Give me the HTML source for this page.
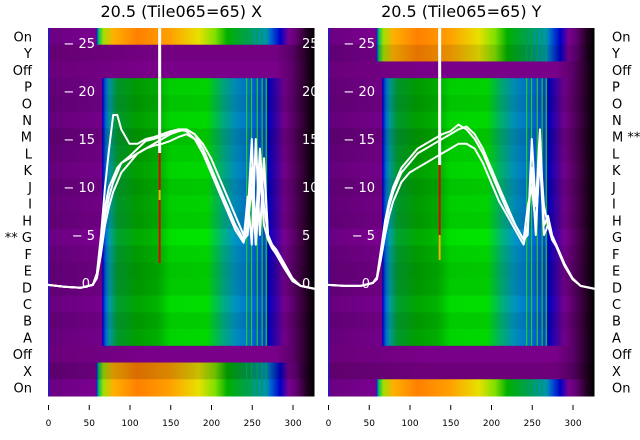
<!DOCTYPE html>
<html><head><meta charset="utf-8">
<style>
html,body{margin:0;padding:0;background:#fff;}
#wrap{position:relative;width:640px;height:440px;overflow:hidden;font-family:"Liberation Sans","DejaVu Sans",sans-serif;}
svg text{font-family:"DejaVu Sans","Liberation Sans",sans-serif;}
</style></head>
<body>
<div id="wrap">
<svg id="svg" width="640" height="440" xmlns="http://www.w3.org/2000/svg">
<defs id="defs"></defs>
</svg>
</div>
<script>
// ---- data ----
const rowLabels = ["On","Y","Off","P","O","N","M","L","K","J","I","H","G","F","E","D","C","B","A","Off","X","On"];
const rowTypesX = ["on","off","off","mid","mid","mid","mid","mid","mid","mid","mid","mid","mid","mid","mid","mid","mid","mid","mid","off","on","on"];
const rowTypesY = ["on","on","off","mid","mid","mid","mid","mid","mid","mid","mid","mid","mid","mid","mid","mid","mid","mid","mid","off","off","on"];
const rowShade = [0,0.1,0.05,0.08,0.12,0.05,0.15,0.1,0.05,0.12,0.08,0.1,0,0.08,0.12,0.1,0.02,0.1,0.05,0.05,0.15,0];
const xTicks = [0,50,100,150,200,250,300];
const yTicks = [0,5,10,15,20,25];
const sampleU = [0,20,40,55,60,65,70,75,80,85,90,100,110,120,130,140,150,160,170,180,190,200,210,220,230,240,245,250,255,260,265,270,275,280,290,300,310,327];
const seriesX1 = [-0.2,-0.4,-0.5,-0.2,1,4,8,10,11,12,12.5,13,13.5,14,14.3,14.5,14.8,15.2,15.5,15,14,12,10,8,6,4.5,5,12,6,14,8,5,4,3.5,2,0.5,-0.3,-0.6];
const seriesX2 = [-0.2,-0.4,-0.5,-0.2,1,5,10,14,17.5,17.5,16,14.5,14.5,15,15.2,15.5,15.8,16,16,15.5,14,12,10,8,6,4.5,9,4,15,5,13,5,4,3.2,1.8,0.3,-0.3,-0.6];
const seriesX3 = [-0.2,-0.4,-0.5,-0.2,0.5,3,6,8,9.5,10.5,11.5,12.5,13.5,14,14.5,15,15.5,15.8,16,15.5,14.5,13,11,9,7,5,7,15,4,10,12,5,3.8,3,1.5,0.2,-0.3,-0.6];
const seriesX4 = [-0.2,-0.4,-0.5,-0.2,0.8,3.5,7,9,10.5,11.5,12.5,13.2,14,14.8,15,15.3,15.6,16,15.8,15,13.5,11.5,9.5,7.5,5.5,4.2,6,10,4,12,6,4.5,3.6,3,1.6,0.3,-0.3,-0.6];
const seriesY1 = [-0.2,-0.3,-0.3,0,0.5,3,6,8,9.5,10.5,11.5,12.5,13.5,14,14.5,15,15.5,16,16.3,15.5,14,12,10,8,6,4.5,5,15,8,16,6,7,5,4,2,0.5,-0.3,-0.6];
const seriesY2 = [-0.2,-0.3,-0.3,0,0.4,2.5,5,7,8.5,9.5,10.5,11.5,12,12.5,13,13.5,14,14.5,14.5,14,12.5,10.5,8.5,7,5.5,4,6,12,5,14,8,6,4.5,3.8,1.8,0.4,-0.3,-0.6];
const seriesY3 = [-0.2,-0.3,-0.3,0,0.6,3.5,6.5,8.5,10,11,12,13,14,14.5,15,15.5,15.8,16.5,16,15,13.5,11.5,9.5,7.5,6,4.5,8,10,6,13,5,6,4.8,4,2,0.5,-0.3,-0.6];

const NS="http://www.w3.org/2000/svg";
const svg=document.getElementById('svg');
const defs=document.getElementById('defs');
function mk(tag,attrs,parent){const e=document.createElementNS(NS,tag);for(const k in attrs)e.setAttribute(k,attrs[k]);(parent||svg).appendChild(e);return e;}

const TOP=28,BOT=396,RH=(BOT-TOP)/rowLabels.length;
const SC=0.815;
function yScale(v){return 283-v*9.6;}

const gradMid=[[0,'#6a0080'],[66,'#7a0090'],[67,'#0000d0'],[71,'#0070d8'],[76,'#00a0a0'],[85,'#00a030'],[110,'#00a800'],[135,'#00b800'],[150,'#00e000'],[195,'#00e400'],[212,'#00b870'],[228,'#0098c0'],[250,'#0070e0'],[268,'#0040e0'],[270,'#0000c8'],[290,'#780090'],[300,'#600070'],[315,'#300030'],[327,'#000000']];
const gradOn=[[0,'#6a0080'],[59,'#7a0090'],[60,'#0030e0'],[62,'#00c060'],[68,'#a0e000'],[80,'#ffb000'],[110,'#ff8000'],[150,'#ffa000'],[185,'#e8e000'],[205,'#80e000'],[220,'#00b000'],[245,'#00a050'],[268,'#0090d0'],[285,'#0000c8'],[295,'#780090'],[305,'#600070'],[318,'#200020'],[327,'#000000']];
const gradOff=[[0,'#700080'],[120,'#800090'],[280,'#800090'],[300,'#600070'],[315,'#300030'],[327,'#000000']];

function makeGrad(id,stops,x0){
  const g=mk('linearGradient',{id:id,gradientUnits:'userSpaceOnUse',x1:x0,y1:0,x2:x0+327*SC,y2:0},defs);
  stops.forEach(s=>mk('stop',{offset:(s[0]/327).toFixed(4),'stop-color':s[1]},g));
}

function panel(pid,x0,types,seriesList,title,labelSide,starRow){
  makeGrad(pid+'mid',gradMid,x0);makeGrad(pid+'on',gradOn,x0);makeGrad(pid+'off',gradOff,x0);
  const g=mk('g',{});
  
  
  const W=327*SC;
  mk('rect',{x:x0,y:TOP,width:W,height:BOT-TOP,fill:'#700080'},g);
  types.forEach((t,i)=>{
    const r=mk('rect',{x:x0,y:TOP+i*RH,width:W,height:RH+0.5,fill:'url(#'+pid+t+')'},g);
    
    
    if(rowShade[i]>0) mk('rect',{x:x0,y:TOP+i*RH,width:W,height:RH+0.5,fill:'#000',opacity:rowShade[i]},g);
    if(t!=='off'){
      [243,249,256,262,267].forEach(u=>{
        mk('rect',{x:x0+u*SC,y:TOP+i*RH,width:1.2,height:RH+0.5,fill:t==='mid'?'#20d020':'#00a040'},g);
      });
    }
  });
  mk('rect',{x:x0,y:TOP,width:1.2,height:BOT-TOP,fill:'#1020e0'},g);
  const lx=x0+137*SC;
  mk('rect',{x:lx-1.5,y:TOP,width:3,height:(pid==='px'?125:137),fill:'#fff'},g);
  mk('rect',{x:lx-1,y:(pid==='px'?153:165),width:2,height:(pid==='px'?110:95),fill:'#e00000'},g);
  mk('rect',{x:lx-1,y:(pid==='px'?190:235),width:2,height:(pid==='px'?10:25),fill:'#e0c000'},g);
  const clipId=pid+'clip';
  const cp=mk('clipPath',{id:clipId},defs);
  mk('rect',{x:x0,y:TOP,width:W,height:BOT-TOP},cp);
  const lg=mk('g',{'clip-path':'url(#'+clipId+')'});
  seriesList.forEach((s,si)=>{
    const d=s.map((v,k)=>(k?'L':'M')+(x0+sampleU[k]*SC).toFixed(1)+','+yScale(v).toFixed(1)).join(' ');
    const p=mk('path',{d:d,fill:'none',stroke:'#fff','stroke-width':2,'stroke-linejoin':'round'},lg);
    
    
  });
  yTicks.forEach(v=>{
    const t=mk('text',{x:x0+47,y:yScale(v)+5,fill:'#fff','font-size':13,'text-anchor':'end'});
    t.textContent=(v===0?'':'\u2212 ')+v;
    
    
    if(v===0){t.setAttribute('x',x0+42);}
  });
  xTicks.forEach(v=>{
    const x=x0+0.5+v*SC;
    mk('line',{x1:x,y1:405,x2:x,y2:410,stroke:'#000','stroke-width':1});
    const t=mk('text',{x:x,y:426,'font-size':9,'text-anchor':'middle',fill:'#000'});
    t.textContent=v;
    
    
  });
  const tt=mk('text',{x:x0+W/2,y:17,'font-size':16,'text-anchor':'middle',fill:'#000'});
  tt.textContent=title;
  
  
  rowLabels.forEach((l,i)=>{
    const y=TOP+i*RH+RH/2+5;
    let txt=l;
    if(i===starRow) txt=labelSide==='left'?'** '+l:l+' **';
    const t=mk('text',{x:labelSide==='left'?32:612,y:y,'font-size':13,'text-anchor':labelSide==='left'?'end':'start',fill:'#000'});
    t.textContent=txt;
    
    
  });
}
panel('px',48,rowTypesX,[seriesX1,seriesX2,seriesX3,seriesX4],'20.5 (Tile065=65) X','left',12);
const spill=mk('g',{});


yTicks.forEach(v=>{const t=mk('text',{x:302,y:yScale(v)+5,fill:'#fff','font-size':13},spill);t.textContent=v;});
mk('rect',{x:315.5,y:TOP,width:12.5,height:BOT-TOP,fill:'#fff'});
panel('py',328,rowTypesY,[seriesY1,seriesY2,seriesY3],'20.5 (Tile065=65) Y','right',6);
</script>
</body></html>
